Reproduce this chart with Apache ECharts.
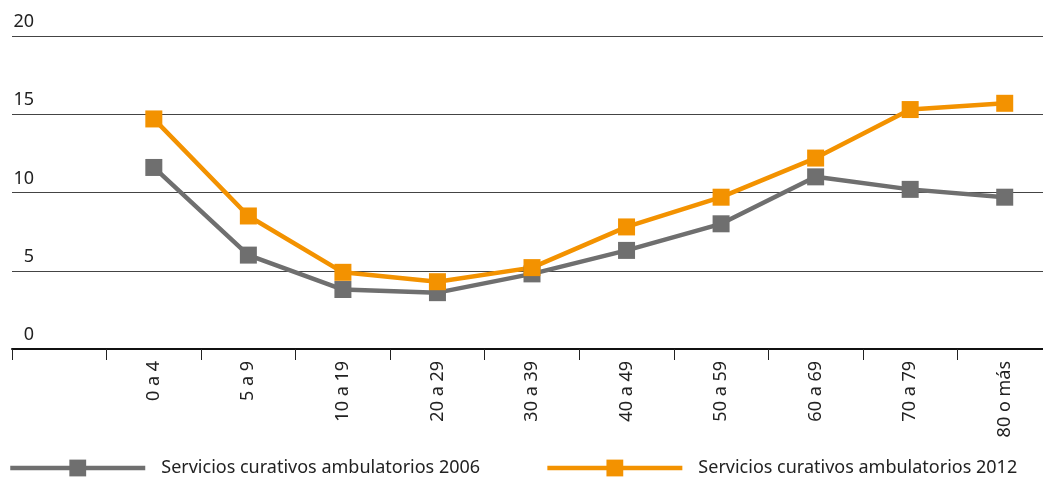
<!DOCTYPE html>
<html>
<head>
<meta charset="utf-8">
<script src="https://cdn.jsdelivr.net/npm/echarts@6/dist/echarts.min.js"></script>
<style>
  html, body { margin: 0; padding: 0; background: #fff; overflow: hidden; }
  /* el eje sigue un poco más allá del borde derecho, por eso el div es más ancho */
  #chart { width: 1052px; height: 478px; }
</style>
</head>
<body>
<div id="chart"></div>
<script>
// grupos de edad (el primer hueco del eje queda vacío)
const categories = ['0 a 4', '5 a 9', '10 a 19', '20 a 29', '30 a 39', '40 a 49', '50 a 59', '60 a 69', '70 a 79', '80 o más']
const values2006 = [11.6, 6.0, 3.8, 3.6, 4.8, 6.3, 8.0, 11.0, 10.2, 9.7]
const values2012 = [14.7, 8.5, 4.9, 4.3, 5.2, 7.8, 9.7, 12.2, 15.3, 15.7]
const yTicks = [0, 5, 10, 15, 20]
const names = ['Servicios curativos ambulatorios 2006', 'Servicios curativos ambulatorios 2012']

const font = 'Noto Sans'
const chart = echarts.init(document.getElementById('chart'))

const lineSeries = (name, values, color) => ({
  name: name,
  type: 'line',
  data: [null].concat(values), // hueco inicial
  symbol: 'rect',
  symbolSize: 17,
  showSymbol: true,
  lineStyle: { color: color, width: 4.5 },
  itemStyle: { color: color },
  emphasis: { disabled: true }
})

chart.setOption({
  animation: false,
  textStyle: { fontFamily: font },
  grid: { left: 12, right: 0, top: 36, bottom: 129, containLabel: false },
  legend: {
    left: 3,
    bottom: -4,
    itemWidth: 135,
    itemHeight: 21,
    itemGap: 65,
    lineStyle: { width: 4.5 },
    textStyle: { fontSize: 18, color: '#222', fontFamily: font, padding: [0, 0, 0, 11] },
    data: names
  },
  xAxis: {
    type: 'category',
    data: [''].concat(categories),
    boundaryGap: true,
    axisLine: { lineStyle: { color: '#111', width: 2 } },
    axisTick: { show: true, interval: 0, length: 11, lineStyle: { color: '#222', width: 1 } },
    axisLabel: { rotate: 90, interval: 0, fontSize: 18, color: '#222', margin: 12, fontFamily: font }
  },
  yAxis: {
    type: 'value',
    min: yTicks[0],
    max: yTicks[yTicks.length - 1],
    interval: 5,
    axisLine: { show: false },
    axisTick: { show: false },
    splitLine: { lineStyle: { color: '#444', width: 1 } },
    axisLabel: {
      fontSize: 18,
      color: '#222',
      align: 'right',
      margin: -22,
      verticalAlign: 'bottom',
      padding: [0, 0, 5, 0],
      fontFamily: font
    }
  },
  series: [
    lineSeries(names[0], values2006, '#6f6f6f'),
    lineSeries(names[1], values2012, '#f39200')
  ]
})
</script>
</body>
</html>
